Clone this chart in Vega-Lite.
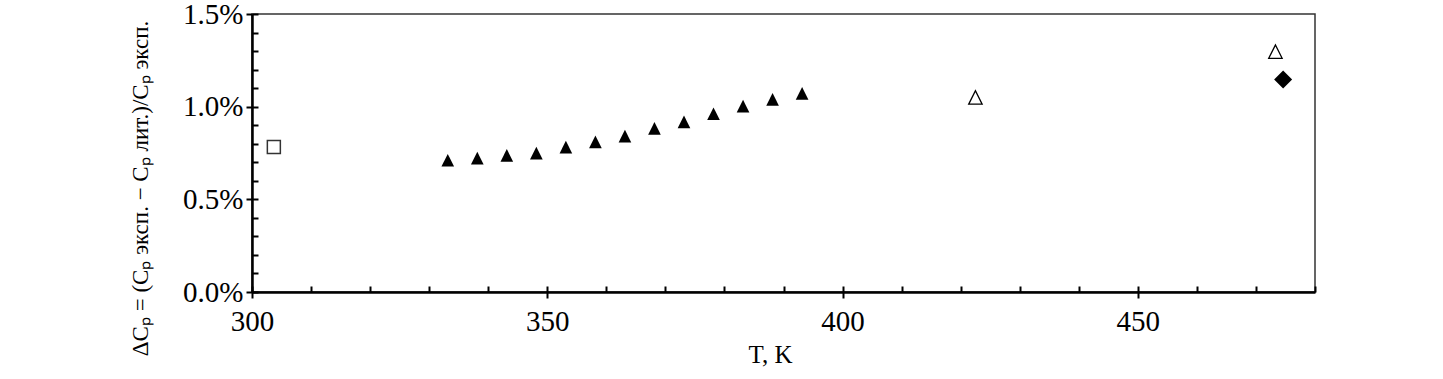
{
  "$schema": "https://vega.github.io/schema/vega-lite/v6.json",
  "autosize": {"type": "none"},
  "width": 1063,
  "height": 278,
  "padding": {"left": 252, "top": 14, "right": 128, "bottom": 87},
  "background": "white",
  "config": {
    "view": {"stroke": "#333333", "strokeWidth": 1.5},
    "font": "Liberation Serif",
    "axis": {
      "labelFont": "Liberation Serif",
      "titleFont": "Liberation Serif",
      "labelColor": "black",
      "titleColor": "black",
      "tickColor": "black",
      "domainColor": "black",
      "grid": false
    }
  },
  "data": {
    "values": [
      {"T": 303.7, "dCp": 0.783, "series": "square"},
      {"T": 333.15, "dCp": 0.711, "series": "filledTri"},
      {"T": 338.15, "dCp": 0.722, "series": "filledTri"},
      {"T": 343.15, "dCp": 0.737, "series": "filledTri"},
      {"T": 348.15, "dCp": 0.749, "series": "filledTri"},
      {"T": 353.15, "dCp": 0.782, "series": "filledTri"},
      {"T": 358.15, "dCp": 0.810, "series": "filledTri"},
      {"T": 363.15, "dCp": 0.841, "series": "filledTri"},
      {"T": 368.15, "dCp": 0.883, "series": "filledTri"},
      {"T": 373.15, "dCp": 0.918, "series": "filledTri"},
      {"T": 378.15, "dCp": 0.962, "series": "filledTri"},
      {"T": 383.15, "dCp": 1.003, "series": "filledTri"},
      {"T": 388.15, "dCp": 1.039, "series": "filledTri"},
      {"T": 393.15, "dCp": 1.072, "series": "filledTri"},
      {"T": 422.5, "dCp": 1.050, "series": "openTri"},
      {"T": 473.3, "dCp": 1.297, "series": "openTri"},
      {"T": 474.6, "dCp": 1.147, "series": "diamond"}
    ]
  },
  "layer": [
    {
      "transform": [{"filter": "datum.series === 'filledTri'"}],
      "mark": {"type": "point", "shape": "M-1,1L0,-1L1,1Z", "size": 160, "filled": true, "color": "black", "opacity": 1},
      "encoding": {
        "x": {
          "field": "T", "type": "quantitative",
          "scale": {"domain": [300, 480], "zero": false, "nice": false},
          "axis": {
            "orient": "bottom",
            "values": [300, 350, 400, 450],
            "tickSize": 6, "tickWidth": 2,
            "domainWidth": 2.5,
            "labelFontSize": 29, "labelPadding": 9,
            "labelFlush": false,
            "title": "T, K", "titleFontSize": 25, "titleFontWeight": "normal",
            "titlePadding": 6, "titleX": 518
          }
        },
        "y": {
          "field": "dCp", "type": "quantitative",
          "scale": {"domain": [0, 1.5], "zero": true, "nice": false},
          "axis": {
            "orient": "left",
            "values": [0, 0.5, 1.0, 1.5],
            "labelExpr": "format(datum.value, '.1f') + '%'",
            "tickSize": 6, "tickWidth": 2,
            "domainWidth": 2.5,
            "labelFontSize": 29, "labelPadding": 3,
            "labelFlush": false,
            "title": "ΔCₚ = (Cₚ эксп. − Cₚ лит.)/Cₚ эксп.",
            "titleFontSize": 23, "titleFontWeight": "normal",
            "titlePadding": 30, "titleY": 174
          }
        }
      }
    },
    {
      "transform": [{"filter": "datum.series === 'square'"}],
      "mark": {"type": "point", "shape": "square", "size": 169, "filled": true, "fill": "white", "stroke": "#333333", "strokeWidth": 1.5, "opacity": 1},
      "encoding": {
        "x": {
          "field": "T", "type": "quantitative",
          "axis": {
            "orient": "bottom",
            "values": [300, 310, 320, 330, 340, 350, 360, 370, 380, 390, 400, 410, 420, 430, 440, 450, 460, 470, 480],
            "tickSize": -6, "tickWidth": 2,
            "labels": false, "domain": false, "title": null
          }
        },
        "y": {
          "field": "dCp", "type": "quantitative",
          "axis": {
            "orient": "left",
            "values": [0, 0.1, 0.2, 0.3, 0.4, 0.5, 0.6, 0.7, 0.8, 0.9, 1.0, 1.1, 1.2, 1.3, 1.4, 1.5],
            "tickSize": -6, "tickWidth": 2,
            "labels": false, "domain": false, "title": null
          }
        }
      }
    },
    {
      "transform": [{"filter": "datum.series === 'openTri'"}],
      "mark": {"type": "point", "shape": "M-1,1L0,-1L1,1Z", "size": 180, "filled": true, "fill": "white", "stroke": "black", "strokeWidth": 1.3, "opacity": 1},
      "encoding": {
        "x": {"field": "T", "type": "quantitative", "axis": null},
        "y": {"field": "dCp", "type": "quantitative", "axis": null}
      }
    },
    {
      "transform": [{"filter": "datum.series === 'diamond'"}],
      "mark": {"type": "point", "shape": "diamond", "size": 324, "filled": true, "color": "black", "opacity": 1},
      "encoding": {
        "x": {"field": "T", "type": "quantitative", "axis": null},
        "y": {"field": "dCp", "type": "quantitative", "axis": null}
      }
    }
  ],
  "resolve": {"axis": {"x": "independent", "y": "independent"}}
}
